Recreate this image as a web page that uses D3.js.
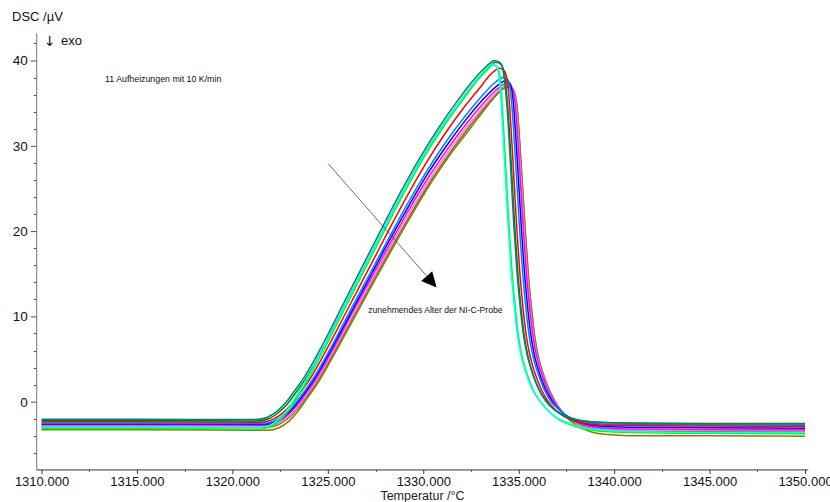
<!DOCTYPE html>
<html>
<head>
<meta charset="utf-8">
<style>
body { margin: 0; background: #fff; }
svg { display: block; font-family: Arial, "Liberation Sans", sans-serif; }
.axis .domain { display: none; }
</style>
</head>
<body>
<svg width="830" height="502"></svg>
<script src="https://d3js.org/d3.v7.min.js"></script>
<script>
// 11 heating runs, newest first: [temperature in °C, DSC in µV]
var run01 = [[1310,-3.0],[1315,-3.0],[1321.4,-3.05],[1322.0,-2.75],[1322.5,-1.9],[1323.0,-0.6],[1323.5,1.2],[1324,3.1],[1325,7.3],[1326,11.7],[1327,16.1],[1328,20.5],[1329,24.8],[1330,28.8],[1331,32.3],[1332,35.4],[1332.8,37.8],[1333.3,39.0],[1333.6,39.6],[1333.85,39.3],[1334.0,37.5],[1334.15,32.5],[1334.3,26.5],[1334.45,20.5],[1334.6,15.4],[1334.8,10.5],[1334.95,7.6],[1335.15,5.2],[1335.35,3.6],[1335.7,1.5],[1336.2,-0.2],[1336.6,-1.2],[1337.0,-1.9],[1337.6,-2.5],[1338.3,-3.0],[1339.2,-3.3],[1341,-3.5],[1345,-3.6],[1350,-3.6]];
var run02 = [[1310,-3.15],[1315,-3.15],[1321.45,-3.2],[1322.05,-2.9],[1322.55,-2.05],[1323.05,-0.75],[1323.55,1.05],[1324.05,3.0],[1325.05,7.2],[1326.05,11.6],[1327.05,16.0],[1328.05,20.4],[1329.05,24.7],[1330.05,28.7],[1331.05,32.2],[1332.05,35.3],[1332.85,37.7],[1333.35,38.9],[1333.65,39.5],[1333.9,39.2],[1334.05,37.4],[1334.2,32.4],[1334.35,26.4],[1334.5,20.4],[1334.65,15.3],[1334.85,10.4],[1335.0,7.5],[1335.2,5.1],[1335.4,3.5],[1335.75,1.4],[1336.25,-0.3],[1336.65,-1.3],[1337.05,-2.0],[1337.65,-2.65],[1338.35,-3.15],[1339.25,-3.45],[1341,-3.6],[1345,-3.7],[1350,-3.75]];
var run03 = [[1310,-2.05],[1315,-2.05],[1321.2,-2.1],[1321.8,-1.85],[1322.3,-1.2],[1322.8,-0.1],[1323.3,1.4],[1323.8,3.0],[1324.8,7.0],[1325.8,11.4],[1326.8,15.8],[1327.8,20.2],[1328.8,24.5],[1329.8,28.5],[1330.8,32.1],[1331.8,35.3],[1332.7,37.9],[1333.3,39.3],[1333.75,40.0],[1334.05,39.7],[1334.25,37.8],[1334.45,32.5],[1334.6,26.5],[1334.75,20.5],[1334.9,15.5],[1335.1,10.6],[1335.25,7.8],[1335.45,5.4],[1335.65,3.8],[1336.0,1.7],[1336.4,0.2],[1336.8,-0.8],[1337.2,-1.4],[1337.7,-1.9],[1338.3,-2.2],[1339.5,-2.45],[1341,-2.55],[1345,-2.6],[1350,-2.6]];
var run04 = [[1310,-2.2],[1315,-2.2],[1321.3,-2.25],[1321.9,-2.0],[1322.4,-1.3],[1322.9,-0.2],[1323.4,1.3],[1323.9,2.9],[1324.9,6.9],[1325.9,11.3],[1326.9,15.7],[1327.9,20.1],[1328.9,24.4],[1329.9,28.4],[1330.9,32.0],[1331.9,35.1],[1332.8,37.7],[1333.35,39.1],[1333.8,39.8],[1334.1,39.5],[1334.3,37.6],[1334.5,32.3],[1334.65,26.3],[1334.8,20.3],[1334.95,15.3],[1335.15,10.4],[1335.3,7.6],[1335.5,5.2],[1335.7,3.6],[1336.05,1.5],[1336.45,0.0],[1336.85,-0.9],[1337.25,-1.5],[1337.75,-2.0],[1338.4,-2.3],[1339.5,-2.45],[1341,-2.5],[1345,-2.55],[1350,-2.55]];
var run05 = [[1310,-2.35],[1315,-2.35],[1321.5,-2.4],[1322.1,-2.1],[1322.6,-1.4],[1323.1,-0.3],[1323.6,1.2],[1324.1,2.8],[1325.1,6.8],[1326.1,11.1],[1327.1,15.4],[1328.1,19.7],[1329.1,23.9],[1330.1,27.8],[1331.1,31.3],[1332.1,34.4],[1333.0,36.9],[1333.5,38.3],[1334.0,39.1],[1334.25,38.8],[1334.45,36.8],[1334.6,32.0],[1334.75,26.2],[1334.9,20.3],[1335.05,15.4],[1335.25,10.5],[1335.4,7.7],[1335.6,5.3],[1335.8,3.7],[1336.15,1.6],[1336.55,0.0],[1336.95,-1.0],[1337.35,-1.7],[1337.85,-2.2],[1338.5,-2.55],[1339.6,-2.75],[1341,-2.8],[1345,-2.85],[1350,-2.9]];
var run06 = [[1310,-2.5],[1315,-2.5],[1321.6,-2.55],[1322.2,-2.25],[1322.7,-1.55],[1323.2,-0.45],[1323.7,1.0],[1324.2,2.6],[1325.2,6.5],[1326.2,10.8],[1327.2,15.0],[1328.2,19.2],[1329.2,23.3],[1330.2,27.1],[1331.2,30.5],[1332.2,33.5],[1333.1,35.9],[1333.7,37.3],[1334.2,38.0],[1334.45,37.7],[1334.6,35.8],[1334.75,31.3],[1334.9,25.8],[1335.05,20.1],[1335.2,15.3],[1335.4,10.5],[1335.55,7.7],[1335.75,5.3],[1335.95,3.7],[1336.3,1.6],[1336.7,0.0],[1337.1,-0.9],[1337.5,-1.6],[1338.0,-2.1],[1338.6,-2.45],[1339.7,-2.65],[1341,-2.7],[1345,-2.72],[1350,-2.75]];
var run07 = [[1310,-2.6],[1315,-2.6],[1321.65,-2.65],[1322.25,-2.35],[1322.75,-1.65],[1323.25,-0.55],[1323.75,0.9],[1324.25,2.5],[1325.25,6.4],[1326.25,10.6],[1327.25,14.8],[1328.25,19.0],[1329.25,23.0],[1330.25,26.8],[1331.25,30.1],[1332.25,33.1],[1333.2,35.6],[1333.8,36.9],[1334.3,37.6],[1334.55,37.3],[1334.7,35.5],[1334.85,31.0],[1335.0,25.6],[1335.15,20.0],[1335.3,15.2],[1335.5,10.4],[1335.65,7.6],[1335.85,5.2],[1336.05,3.6],[1336.4,1.5],[1336.8,-0.1],[1337.2,-1.1],[1337.6,-1.8],[1338.1,-2.35],[1338.7,-2.7],[1339.8,-2.95],[1341,-3.0],[1345,-3.05],[1350,-3.1]];
var run08 = [[1310,-2.7],[1315,-2.7],[1321.7,-2.75],[1322.3,-2.45],[1322.8,-1.75],[1323.3,-0.65],[1323.8,0.8],[1324.3,2.4],[1325.3,6.3],[1326.3,10.5],[1327.3,14.6],[1328.3,18.7],[1329.3,22.7],[1330.3,26.4],[1331.3,29.7],[1332.3,32.7],[1333.2,35.1],[1333.85,36.6],[1334.35,37.3],[1334.6,37.0],[1334.8,35.2],[1334.95,30.8],[1335.1,25.4],[1335.25,19.9],[1335.4,15.1],[1335.6,10.4],[1335.75,7.6],[1335.95,5.2],[1336.15,3.6],[1336.5,1.5],[1336.9,-0.2],[1337.3,-1.3],[1337.7,-2.0],[1338.2,-2.55],[1338.8,-2.9],[1339.9,-3.15],[1341,-3.2],[1345,-3.25],[1350,-3.3]];
var run09 = [[1310,-2.85],[1315,-2.85],[1321.75,-2.9],[1322.35,-2.6],[1322.85,-1.9],[1323.35,-0.8],[1323.85,0.7],[1324.35,2.3],[1325.35,6.2],[1326.35,10.3],[1327.35,14.4],[1328.35,18.5],[1329.35,22.4],[1330.35,26.1],[1331.35,29.4],[1332.35,32.4],[1333.25,34.8],[1333.9,36.4],[1334.4,37.1],[1334.65,36.8],[1334.85,35.0],[1335.0,30.6],[1335.15,25.3],[1335.3,19.8],[1335.45,15.0],[1335.65,10.3],[1335.8,7.5],[1336.0,5.1],[1336.2,3.5],[1336.55,1.4],[1336.95,-0.3],[1337.35,-1.4],[1337.75,-2.1],[1338.25,-2.65],[1338.85,-3.0],[1339.9,-3.25],[1341,-3.3],[1345,-3.35],[1350,-3.4]];
var run10 = [[1310,-2.95],[1315,-2.95],[1321.8,-3.0],[1322.4,-2.7],[1322.9,-2.0],[1323.4,-0.9],[1323.9,0.6],[1324.4,2.2],[1325.4,6.1],[1326.4,10.2],[1327.4,14.3],[1328.4,18.3],[1329.4,22.2],[1330.4,25.9],[1331.4,29.2],[1332.4,32.2],[1333.3,34.7],[1333.95,36.3],[1334.45,37.0],[1334.7,36.7],[1334.9,34.9],[1335.05,30.5],[1335.2,25.2],[1335.35,19.8],[1335.5,15.0],[1335.7,10.3],[1335.85,7.5],[1336.05,5.1],[1336.25,3.5],[1336.6,1.4],[1337.0,-0.3],[1337.4,-1.5],[1337.8,-2.2],[1338.3,-2.8],[1338.9,-3.15],[1340,-3.4],[1341.5,-3.45],[1345,-3.5],[1350,-3.5]];
var run11 = [[1310,-3.3],[1315,-3.3],[1321.85,-3.35],[1322.45,-3.05],[1322.95,-2.3],[1323.45,-1.1],[1323.95,0.5],[1324.45,2.1],[1325.45,6.0],[1326.45,10.1],[1327.45,14.2],[1328.45,18.2],[1329.45,22.1],[1330.45,25.8],[1331.45,29.1],[1332.45,32.0],[1333.3,34.5],[1333.95,36.2],[1334.4,36.9],[1334.7,36.6],[1334.9,34.8],[1335.05,30.4],[1335.2,25.2],[1335.35,19.7],[1335.5,14.9],[1335.7,10.2],[1335.85,7.4],[1336.05,5.0],[1336.25,3.4],[1336.6,1.3],[1337.0,-0.4],[1337.4,-1.6],[1337.8,-2.4],[1338.3,-3.1],[1338.9,-3.6],[1340,-3.9],[1341.5,-4.0],[1345,-4.0],[1350,-4.05]];

var runs = [run01, run02, run03, run04, run05, run06, run07, run08, run09, run10, run11];
var runColors = ["#00ffff", "#00ff00", "#008080", "#008000", "#ff0000", "#0080ff", "#0000ff", "#ff00ff", "#ff80c0", "#996633", "#808000"];

var xTicks = [1310, 1315, 1320, 1325, 1330, 1335, 1340, 1345, 1350];
var yTicks = [0, 10, 20, 30, 40];

// annotation anchors in data units
var arrowFrom = [1325.02, 27.9], arrowTo = [1330.70, 13.4];
var noteRuns = {t: 1313.33, v: 37.45, text: "11 Aufheizungen mit 10 K/min"};
var noteAge = {t: 1327.12, v: 10.35, text: "zunehmendes Alter der NI-C-Probe"};

var svg = d3.select("svg");

var x = d3.scaleLinear().domain([1310, 1350]).range([41.5, 805]);
var y = d3.scaleLinear().domain([0, 40]).range([401.7, 60.5]);

var x0 = x(1309.75), x1 = x(1350.17), yb = y(-8), yt = y(43.2);

// axis lines
svg.append("line").attr("x1", x0).attr("x2", x0).attr("y1", yt).attr("y2", yb)
    .attr("stroke", "#777").attr("stroke-width", 1);
svg.append("line").attr("x1", x0).attr("x2", x1).attr("y1", yb).attr("y2", yb)
    .attr("stroke", "#333").attr("stroke-width", 1);

// minor ticks
var yMinor = d3.range(-6, 43, 2).filter(function(d) { return d % 10 != 0; });
svg.append("g").selectAll("line").data(yMinor).enter().append("line")
    .attr("x1", x0 - 3).attr("x2", x0)
    .attr("y1", function(d) { return Math.round(y(d)) + 0.5; })
    .attr("y2", function(d) { return Math.round(y(d)) + 0.5; })
    .attr("stroke", "#555");
var xMinor = d3.range(1312.5, 1350, 5);
svg.append("g").selectAll("line").data(xMinor).enter().append("line")
    .attr("x1", function(d) { return Math.round(x(d)) + 0.5; })
    .attr("x2", function(d) { return Math.round(x(d)) + 0.5; })
    .attr("y1", yb).attr("y2", yb + 2)
    .attr("stroke", "#555");

// major axes
svg.append("g")
    .attr("class", "axis")
    .attr("transform", "translate(0," + yb + ")")
    .call(d3.axisBottom(x).tickValues(xTicks).tickSize(4).tickPadding(3).tickFormat(d3.format(".3f")))
    .call(function(g) {
      g.selectAll("line").attr("stroke", "#333");
      g.selectAll("text").attr("font-size", 13).attr("fill", "#111").attr("font-family", "Arial, 'Liberation Sans', sans-serif");
    });

svg.append("g")
    .attr("class", "axis")
    .attr("transform", "translate(" + x0 + ",0)")
    .call(d3.axisLeft(y).tickValues(yTicks).tickSize(6).tickPadding(3).tickFormat(d3.format("d")))
    .call(function(g) {
      g.selectAll("line").attr("stroke", "#555");
      g.selectAll("text").attr("font-size", 13.5).attr("fill", "#111").attr("font-family", "Arial, 'Liberation Sans', sans-serif");
    });

// curves, oldest underneath
var line = d3.line()
    .x(function(d) { return x(d[0]); })
    .y(function(d) { return y(d[1]); })
    .curve(d3.curveMonotoneX);

svg.append("g")
  .selectAll("path")
  .data(runs.map(function(r, i) { return {pts: r, color: runColors[i]}; }).reverse())
  .enter().append("path")
    .attr("d", function(d) { return line(d.pts); })
    .attr("fill", "none")
    .attr("stroke", function(d) { return d.color; })
    .attr("stroke-width", 1.5);

// arrow annotation
var ax0 = x(arrowFrom[0]), ay0 = y(arrowFrom[1]), ax1 = x(arrowTo[0]), ay1 = y(arrowTo[1]);
var len = Math.sqrt((ax1 - ax0) * (ax1 - ax0) + (ay1 - ay0) * (ay1 - ay0));
var ux = (ax1 - ax0) / len, uy = (ay1 - ay0) / len;
var headL = 15, headW = 7.3;
var bx = ax1 - ux * headL, by = ay1 - uy * headL;
svg.append("line")
    .attr("x1", ax0).attr("y1", ay0).attr("x2", bx).attr("y2", by)
    .attr("stroke", "#444").attr("stroke-width", 0.8);
svg.append("polygon")
    .attr("points", [[ax1, ay1], [bx - uy * headW, by + ux * headW], [bx + uy * headW, by - ux * headW]].join(" "))
    .attr("fill", "#000");

// texts
svg.append("text").attr("x", 12).attr("y", 20.5)
    .attr("font-size", 13).attr("fill", "#111").text("DSC /µV");
svg.append("text").attr("x", 44).attr("y", 46)
    .attr("font-family", "'DejaVu Sans'")
    .attr("font-size", 14).attr("fill", "#111").text("↓");
svg.append("text").attr("x", 61).attr("y", 44.5)
    .attr("font-size", 13).attr("fill", "#111").text("exo");
svg.append("text").attr("x", x(noteRuns.t)).attr("y", y(noteRuns.v))
    .attr("font-size", 8.8).attr("fill", "#111").text(noteRuns.text);
svg.append("text").attr("x", x(noteAge.t)).attr("y", y(noteAge.v))
    .attr("font-size", 8.6).attr("fill", "#111").text(noteAge.text);
svg.append("text").attr("x", 422.5).attr("y", 499.5)
    .attr("text-anchor", "middle").attr("font-size", 12.5).attr("fill", "#222").text("Temperatur /°C");
</script>
</body>
</html>
